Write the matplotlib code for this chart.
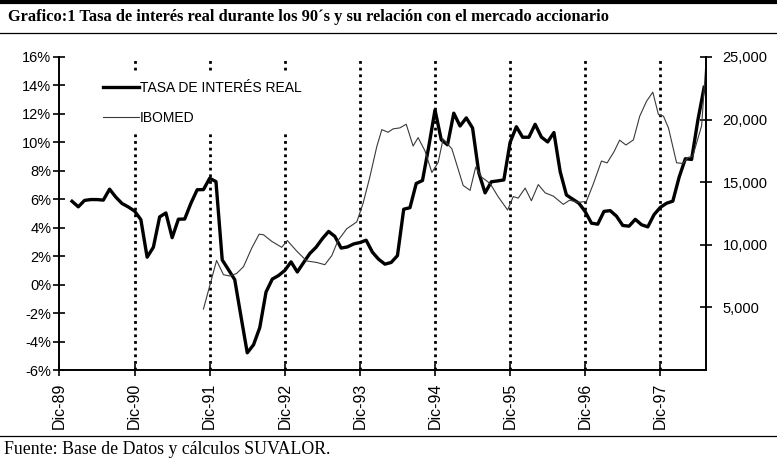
import matplotlib
matplotlib.use('Agg')  # no display
import matplotlib.pyplot as plt
from matplotlib.lines import Line2D
from matplotlib.ticker import FuncFormatter, FixedLocator
import numpy as np

# --- data ----------------------------------------------------------------
# x positions are months counted from Dic-89 (0 = Dic-89, 12 = Dic-90, ...)
etiquetas_x = ['Dic-89', 'Dic-90', 'Dic-91', 'Dic-92', 'Dic-93',
               'Dic-94', 'Dic-95', 'Dic-96', 'Dic-97']
meses_dic = [0, 12, 24, 36, 48, 60, 72, 84, 96]

# real interest rate (%), monthly from Feb-90 to Jul-98
tasa_mes_inicio = 2
tasa_real = [5.86, 5.47, 5.92, 5.98, 5.98, 5.94, 6.71, 6.15, 5.70, 5.46, 5.17, 4.57,
             1.93, 2.63, 4.76, 5.04, 3.30, 4.60, 4.61, 5.72, 6.67, 6.68, 7.48, 7.24,
             1.74, 1.05, 0.35, -2.24, -4.79, -4.23, -3.02, -0.52, 0.39, 0.64, 1.00, 1.60,
             0.89, 1.55, 2.19, 2.63, 3.23, 3.74, 3.39, 2.57, 2.65, 2.86, 2.96, 3.12,
             2.28, 1.78, 1.44, 1.56, 2.04, 5.30, 5.41, 7.11, 7.32, 9.70, 12.28, 10.18,
             9.83, 12.05, 11.15, 11.72, 11.01, 7.86, 6.45, 7.23, 7.29, 7.36, 10.00, 11.10,
             10.36, 10.36, 11.27, 10.37, 10.03, 10.69, 7.94, 6.30, 6.01, 5.72, 5.13, 4.32,
             4.25, 5.15, 5.20, 4.81, 4.16, 4.11, 4.59, 4.21, 4.06, 4.92, 5.43, 5.72,
             5.87, 7.54, 8.85, 8.80, 11.56, 13.87]

# IBOMED index (right axis)
ibomed_mes = [23.0, 25.1, 26.2, 27.2, 28.3, 29.4, 30.7, 31.9, 32.6, 33.9,
              35.5, 36.4, 37.9, 39.5, 41.1, 42.4, 43.5, 44.5, 45.9, 47.5,
              48.5, 49.6, 50.7, 51.5, 52.5, 53.3, 54.4, 55.4, 56.5, 57.3,
              58.4, 59.5, 60.5, 61.3, 62.7, 64.5, 65.6, 66.5, 67.4, 68.8,
              70.1, 71.6, 72.5, 73.3, 74.4, 75.4, 76.5, 77.6, 78.9, 80.5,
              81.5, 82.9, 84.2, 85.3, 86.6, 87.5, 88.6, 89.5, 90.5, 91.7,
              92.7, 93.8, 94.8, 95.7, 96.5, 97.3, 98.6, 99.6, 100.4, 101.2,
              102.6, 103.3]
ibomed = [4870, 8750, 7610, 7510, 7710, 8250, 9720, 10850, 10800, 10280,
          9800, 10340, 9500, 8710, 8590, 8410, 9130, 10340, 11280, 11830,
          13300, 15440, 17850, 19200, 18990, 19260, 19340, 19630, 17890, 18560,
          17500, 15770, 16580, 18460, 17660, 14740, 14350, 16210, 15420, 14900,
          13830, 12780, 13850, 13730, 14530, 13520, 14810, 14150, 13890, 13230,
          13560, 13390, 13470, 14870, 16690, 16540, 17430, 18360, 17970, 18380,
          20260, 21470, 22190, 20400, 20280, 19340, 16550, 16500, 16970, 17100,
          19510, 24590]

titulo = u'Grafico:1 Tasa de interés real durante los 90\u00b4s y su relación con el mercado accionario'
fuente = u'Fuente: Base de Datos y cálculos SUVALOR.'

# --- figure ------------------------------------------------------------
W, H = 777, 472
fig = plt.figure(figsize=(W / 100, H / 100), dpi=100)
fig.patch.set_facecolor('white')

# plot box in pixels (left, right, top, bottom)
px_l, px_r, px_t, px_b = 59.5, 706, 57, 370
ax = fig.add_axes([px_l / W, 1 - px_b / H, (px_r - px_l) / W, (px_b - px_t) / H])
ax2 = ax.twinx()

sans = ['Liberation Sans', 'DejaVu Sans']
serif = ['Liberation Serif', 'DejaVu Serif']

meses_tasa = np.arange(tasa_mes_inicio, tasa_mes_inicio + len(tasa_real))

# dotted year markers
for m in meses_dic[1:]:
    ax.axvline(m, color='black', linestyle=(0, (1.0, 1.4)), linewidth=2.0, zorder=1)

l1, = ax.plot(meses_tasa, tasa_real, color='black', linewidth=2.4,
              solid_joinstyle='round', zorder=3)
l2, = ax2.plot(ibomed_mes, ibomed, color='#3a3a3a', linewidth=0.8, zorder=2)

ax.set_xlim(0, 103.3)
ax.set_ylim(-6, 16)
ax2.set_ylim(0, 25000)

ax.set_yticks(np.arange(-6, 17, 2))
ax.yaxis.set_major_formatter(FuncFormatter(lambda v, p: f'{v:.0f}%'))
ax2.yaxis.set_major_locator(FixedLocator([5000, 10000, 15000, 20000, 25000]))
ax2.yaxis.set_major_formatter(FuncFormatter(lambda v, p: f'{v:,.0f}'))

ax.set_xticks(meses_dic)
ax.set_xticklabels(etiquetas_x, rotation=90, family=sans, fontsize=11.5)

for a in (ax, ax2):
    for s in a.spines.values():
        s.set_visible(False)
ax.spines['left'].set_visible(True)
ax.spines['bottom'].set_visible(True)
ax2.spines['right'].set_visible(True)
for s in (ax.spines['left'], ax.spines['bottom'], ax2.spines['right']):
    s.set_linewidth(1.4)

ax.tick_params(axis='both', direction='inout', length=8, width=1.2, colors='black')
ax.tick_params(axis='y', pad=2, labelsize=10.5)
ax.tick_params(axis='x', pad=5)
ax2.tick_params(axis='y', direction='inout', length=8, width=1.2, pad=8, labelsize=10.5)
for lab in ax.get_yticklabels() + ax2.get_yticklabels():
    lab.set_family(sans)

# legend with white box (it hides the dotted lines behind it)
handles = [Line2D([], [], color='black', linewidth=2.4),
           Line2D([], [], color='#3a3a3a', linewidth=0.8)]
leg = ax2.legend(handles, [u'TASA DE INTERÉS REAL', 'IBOMED'],
                 loc='upper left', bbox_to_anchor=(0.046, 0.968),
                 frameon=True, facecolor='white', edgecolor='none', framealpha=1,
                 fancybox=False, handlelength=2.6, handletextpad=0.05,
                 labelspacing=1.15, borderpad=0.5, prop={'family': sans, 'size': 10})

# title, rules and source note
fig.text(8 / W, 1 - 17 / H, titulo, family=serif, fontweight='bold',
         fontsize=11.8, ha='left', va='center')
fig.add_artist(Line2D([0, 1], [1 - 1.5 / H, 1 - 1.5 / H], color='black', linewidth=3))
fig.add_artist(Line2D([0, 1], [1 - 33 / H, 1 - 33 / H], color='black', linewidth=0.9))
fig.add_artist(Line2D([0, 1], [1 - 436 / H, 1 - 436 / H], color='black', linewidth=0.9))
fig.text(4 / W, 1 - 450 / H, fuente, family=serif, fontsize=12.8, ha='left', va='center')

fig.savefig('out.png', dpi=100)
plt.close(fig)
